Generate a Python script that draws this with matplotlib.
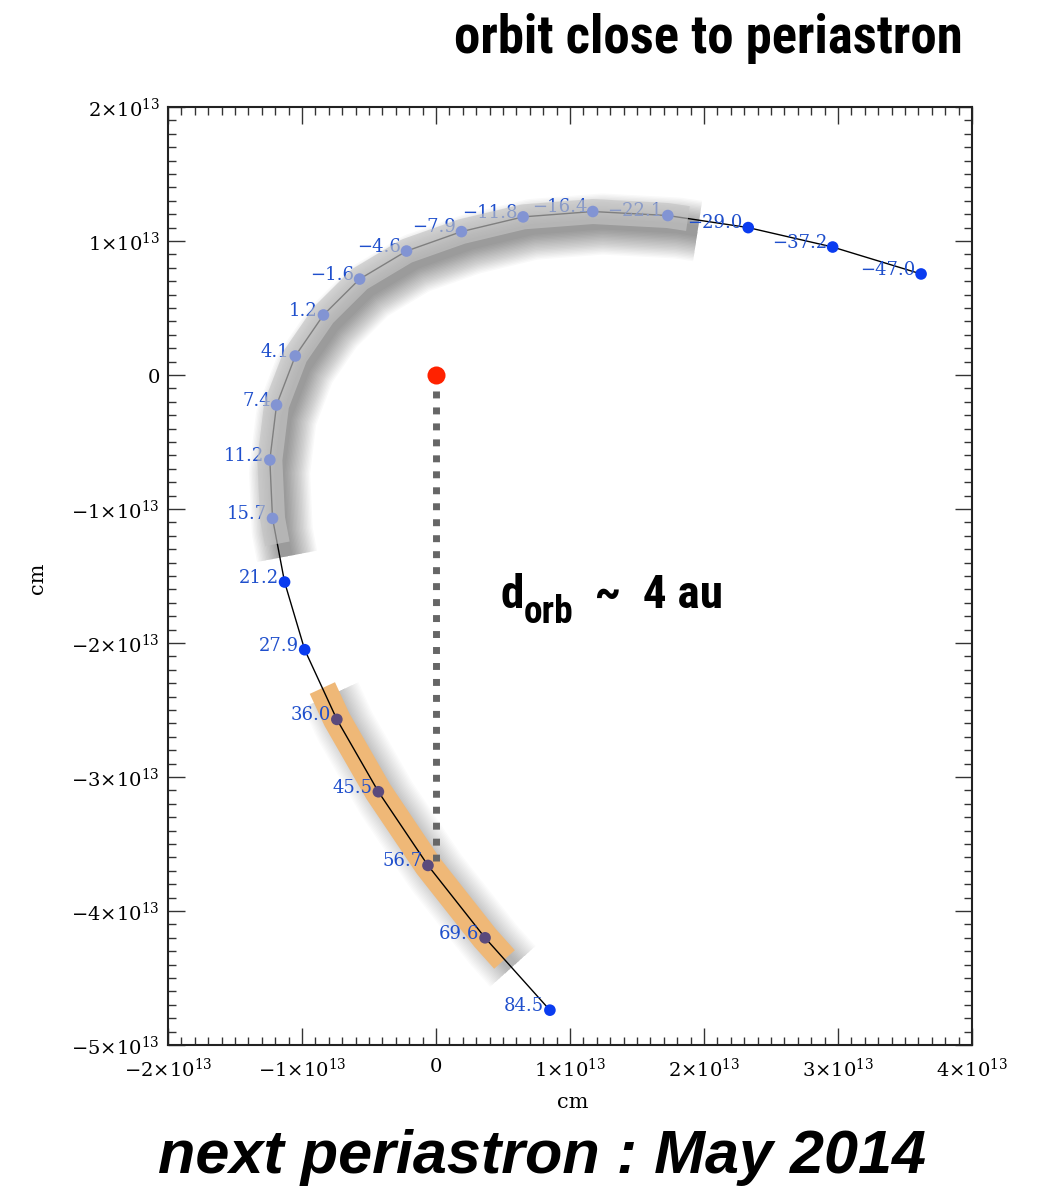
import matplotlib
matplotlib.use("Agg")
import matplotlib.pyplot as plt
import matplotlib.transforms as mtransforms
from matplotlib.ticker import MultipleLocator, FuncFormatter

# --------------------------------------------
# Orbit data (positions in units of 1e13 cm)
# --------------------------------------------
day_labels = ["\u221247.0", "\u221237.2", "\u221229.0", "\u221222.1", "\u221216.4",
              "\u221211.8", "\u22127.9", "\u22124.6", "\u22121.6", "1.2", "4.1",
              "7.4", "11.2", "15.7", "21.2", "27.9", "36.0", "45.5", "56.7",
              "69.6", "84.5"]
x_orbit = [3.62, 2.96, 2.33, 1.73, 1.17, 0.65, 0.19, -0.22, -0.57, -0.84, -1.05,
           -1.19, -1.24, -1.22, -1.13, -0.98, -0.74, -0.43, -0.06, 0.366, 0.85]
y_orbit = [0.754, 0.955, 1.10, 1.19, 1.22, 1.18, 1.07, 0.925, 0.716, 0.448, 0.142,
           -0.224, -0.634, -1.07, -1.545, -2.05, -2.57, -3.11, -3.66, -4.20, -4.74]

# companion position and separation marker
star_x, star_y = 0.0, 0.0
sep_end_y = -3.63

# highlighted arcs (first/last point index)
grey_arc = (3, 13)
orange_arc = (16, 19)

W, H = 1037, 1188
plt.rcParams["mathtext.fontset"] = "dejavuserif"

fig = plt.figure(figsize=(W / 100, H / 100), dpi=100)
ax = fig.add_axes([168 / W, 1 - 1045 / H, 804 / W, 938 / H])


def arc(i0, i1, ext0, ext1):
    xs = x_orbit[i0:i1 + 1]
    ys = y_orbit[i0:i1 + 1]
    # extend a little past the end points along the orbit
    xa = x_orbit[i0] + ext0 * (x_orbit[i0 - 1] - x_orbit[i0])
    ya = y_orbit[i0] + ext0 * (y_orbit[i0 - 1] - y_orbit[i0])
    xb = x_orbit[i1] + ext1 * (x_orbit[i1 + 1] - x_orbit[i1])
    yb = y_orbit[i1] + ext1 * (y_orbit[i1 + 1] - y_orbit[i1])
    return [xa] + xs + [xb], [ya] + ys + [yb]


gx, gy = arc(grey_arc[0], grey_arc[1], 0.25, 0.4)
ox, oy = arc(orange_arc[0], orange_arc[1], 0.45, 0.3)

# soft shadows under the bands
for dx, dy, arcx, arcy, a in [(7, -9, gx, gy, 0.022), (6, -5, ox, oy, 0.015)]:
    tr = mtransforms.offset_copy(ax.transData, fig=fig, x=dx, y=dy, units="points")
    for lw in range(8, 46, 2):
        ax.plot(arcx, arcy, color="black", lw=lw, alpha=a, transform=tr,
                solid_capstyle="butt", zorder=1)

# orange band sits under the orbit
ax.plot(ox, oy, color="#efb877", lw=20, solid_capstyle="butt", zorder=2)

# orbit line and epochs
ax.plot(x_orbit, y_orbit, color="black", lw=1.0, zorder=3)
dot_colors = []
for i in range(len(x_orbit)):
    if orange_arc[0] <= i <= orange_arc[1]:
        dot_colors.append("#5b4a7c")
    else:
        dot_colors.append("#0a3cf0")
ax.scatter(x_orbit, y_orbit, s=70, c=dot_colors, zorder=4, linewidths=0)

for lab, xx, yy in zip(day_labels, x_orbit, y_orbit):
    ax.annotate(lab, (xx, yy), xytext=(-4, 3), textcoords="offset points",
                ha="right", va="center", color="#1f4fcc", fontsize=13,
                family="DejaVu Serif", zorder=5)

# grey translucent band on top
ax.plot(gx, gy, color="#c4c4c4", lw=18, alpha=0.65, solid_capstyle="butt", zorder=6)

# separation line + star
ax.plot([star_x, star_x], [star_y, sep_end_y], color="#666666", lw=5,
        linestyle=(0, (1, 1.3)), dash_capstyle="butt", zorder=3)
ax.plot(star_x, star_y, "o", color="#ff2200", ms=13, mec="none", zorder=7)

# --------------------------------------------
# Axes styling
# --------------------------------------------
ax.set_xlim(-2, 4)
ax.set_ylim(-5, 2)
ax.xaxis.set_major_locator(MultipleLocator(1))
ax.xaxis.set_minor_locator(MultipleLocator(0.1))
ax.yaxis.set_major_locator(MultipleLocator(1))
ax.yaxis.set_minor_locator(MultipleLocator(0.1))


def sci(v, pos):
    n = int(round(v))
    if n == 0:
        return "$0$"
    return r"$%d{\times}10^{13}$" % n


ax.xaxis.set_major_formatter(FuncFormatter(sci))
ax.yaxis.set_major_formatter(FuncFormatter(sci))
ax.tick_params(which="both", direction="in", top=True, right=True,
               color="#333333", width=1.0, labelsize=14)
ax.tick_params(which="major", length=12)
ax.tick_params(which="minor", length=6)
ax.tick_params(axis="x", pad=9)
ax.tick_params(axis="y", pad=6)
for sp in ax.spines.values():
    sp.set_linewidth(1.5)
    sp.set_color("#222222")

fig.text(573 / W, 1 - 1102 / H, "cm", ha="center", va="center",
         fontsize=15, family="DejaVu Serif")
fig.text(38 / W, 1 - 578 / H, "cm", ha="center", va="center", rotation=90,
         fontsize=15, family="DejaVu Serif")

# --------------------------------------------
# Annotations
# --------------------------------------------
narrow = ["Liberation Sans Narrow", "Roboto Condensed", "Open Sans Condensed",
          "Noto Sans", "DejaVu Sans"]
fig.text(963 / W, 1 - 53 / H, "orbit close to periastron", ha="right",
         va="baseline", fontsize=38, fontweight="bold", family=narrow,
         fontstretch="condensed")

fig.canvas.draw()
r = fig.canvas.get_renderer()
t1 = fig.text(500 / W, 1 - 608 / H, "d", ha="left", va="baseline",
              fontsize=34, fontweight="bold", family=narrow, fontstretch="condensed")
b1 = t1.get_window_extent(r)
t2 = fig.text(b1.x1 / W, 1 - 623 / H, "orb", ha="left", va="baseline",
              fontsize=27, fontweight="bold", family=narrow, fontstretch="condensed")
b2 = t2.get_window_extent(r)
fig.text(b2.x1 / W, 1 - 608 / H, "  ~  4 au", ha="left", va="baseline",
         fontsize=34, fontweight="bold", family=narrow, fontstretch="condensed")

fig.text(542 / W, 1 - 1173 / H, "next periastron : May 2014", ha="center",
         va="baseline", fontsize=44, fontweight="bold", style="italic",
         family="Liberation Sans")

fig.savefig("out.png", dpi=100)
